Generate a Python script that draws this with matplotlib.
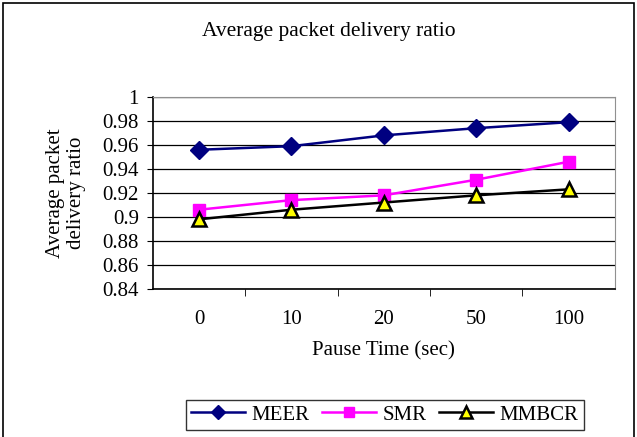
import matplotlib.pyplot as plt
from matplotlib.patches import Rectangle

plt.rcParams['font.family'] = ['Liberation Serif', 'DejaVu Serif']

pause = ['0', '10', '20', '50', '100']
meer = [0.956, 0.959, 0.968, 0.974, 0.979]
smr = [0.906, 0.914, 0.918, 0.931, 0.946]
mmbcr = [0.898, 0.906, 0.912, 0.918, 0.923]

fs = 15

fig = plt.figure(figsize=(6.37, 4.37), dpi=100)
ax = fig.add_axes([0.240, 0.339, 0.725, 0.439])

x = range(len(pause))
ax.plot(x, meer, color='#000080', marker='D', markersize=9, lw=1.8, label='MEER')
ax.plot(x, smr, color='#ff00ff', marker='s', markersize=9, lw=1.8, label='SMR')
ax.plot(x, mmbcr, color='black', marker='^', markersize=10, lw=1.8,
        markerfacecolor='#ffff00', markeredgecolor='black', markeredgewidth=1.8, label='MMBCR')

ax.set_xlim(-0.5, len(pause) - 0.5)
ax.set_ylim(0.84, 1.0)
yt = [0.84 + 0.02 * i for i in range(9)]
ax.set_yticks(yt)
ax.set_yticklabels(['0.84', '0.86', '0.88', '0.9', '0.92', '0.94', '0.96', '0.98', '1'])
ax.set_xticks(list(x))
ax.set_xticklabels(pause)
ax.set_xticks([i + 0.5 for i in range(len(pause) - 1)], minor=True)
ax.tick_params(axis='x', which='major', length=0, pad=15, labelsize=fs)
ax.tick_params(axis='x', which='minor', length=5, direction='out', color='black')
ax.tick_params(axis='y', length=4, direction='out', labelsize=fs, pad=6)
ax.grid(axis='y', color='black', lw=0.9)
ax.set_axisbelow(True)
for s in ['top', 'right']:
    ax.spines[s].set_color('#909090')
for s in ['left', 'bottom']:
    ax.spines[s].set_color('black')
    ax.spines[s].set_linewidth(1.2)

ax.set_xlabel('Pause Time (sec)', fontsize=fs, labelpad=9)
ax.set_ylabel('Average packet\ndelivery ratio', fontsize=fs, labelpad=12, linespacing=1.15)
fig.text(0.516, 0.928, 'Average packet delivery ratio', ha='center', va='center', fontsize=fs + 0.5)

leg = fig.legend(loc='center', bbox_to_anchor=(0.604, 0.051), ncol=3, fontsize=fs,
                 frameon=True, fancybox=False, edgecolor='black', handlelength=2.6,
                 columnspacing=0.6, handletextpad=0.3, borderpad=0.25, markerscale=0.8)
leg.get_frame().set_linewidth(1.0)

fig.patches.append(Rectangle((0.005, -0.05), 0.99, 1.043, transform=fig.transFigure,
                             fill=False, edgecolor='black', lw=1.2))

fig.savefig('out.png', dpi=100)
